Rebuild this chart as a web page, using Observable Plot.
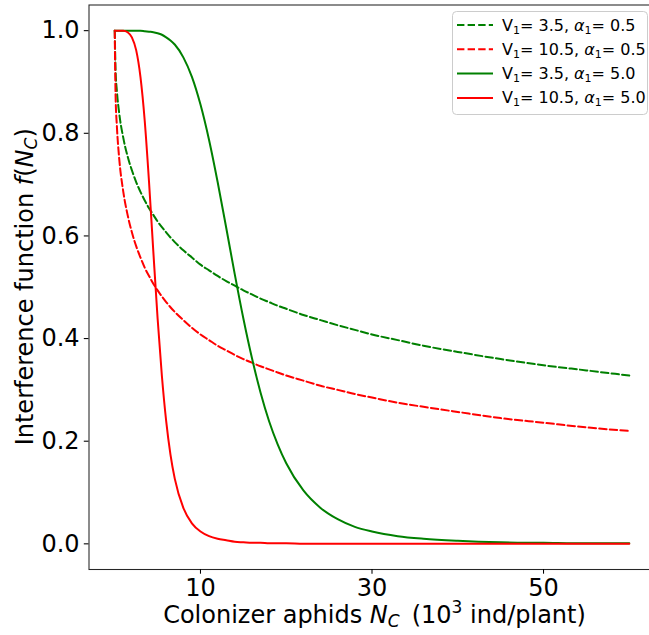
<!DOCTYPE html>
<html><head><meta charset="utf-8">
<script src="https://cdn.jsdelivr.net/npm/d3@7"></script>
<script src="https://cdn.jsdelivr.net/npm/@observablehq/plot@0.6"></script>
<style>
html,body{margin:0;padding:0;background:#fff;overflow:hidden}
#chart{position:relative;width:649px;height:635px;overflow:hidden}
#chart svg{font-family:"DejaVu Sans",sans-serif;overflow:hidden}
</style></head><body><div id="chart"></div>
<script>
// Colonizer aphids N_C (10^3 ind/plant)
const nValues = [0, 0.1, 0.25, 0.5, 1, 1.5, 2, 2.5, 3, 3.5, 4, 4.5, 5, 5.5, 6, 6.5, 7, 8, 9, 10, 11, 12, 13, 14, 15, 16, 17, 18, 19, 20, 22, 24, 26, 28, 30, 33, 36, 40, 45, 50, 55, 60];
// V1 = 3.5, alpha1 = 0.5 (green dashed)
const greenDashed = [1.000, 0.923, 0.883, 0.842, 0.791, 0.755, 0.728, 0.705, 0.686, 0.669, 0.654, 0.641, 0.628, 0.617, 0.607, 0.597, 0.588, 0.572, 0.558, 0.544, 0.533, 0.522, 0.512, 0.503, 0.494, 0.486, 0.478, 0.471, 0.464, 0.458, 0.446, 0.436, 0.426, 0.417, 0.408, 0.397, 0.386, 0.374, 0.360, 0.348, 0.338, 0.328];
// V1 = 10.5, alpha1 = 0.5 (red dashed)
const redDashed = [1.000, 0.873, 0.814, 0.755, 0.686, 0.641, 0.607, 0.580, 0.558, 0.538, 0.522, 0.507, 0.494, 0.482, 0.471, 0.461, 0.452, 0.436, 0.421, 0.408, 0.397, 0.386, 0.377, 0.368, 0.360, 0.353, 0.346, 0.340, 0.334, 0.328, 0.318, 0.308, 0.300, 0.292, 0.285, 0.275, 0.267, 0.257, 0.245, 0.236, 0.227, 0.220];
// V1 = 3.5, alpha1 = 5.0 (green solid)
const greenSolid = [1, 1, 1, 1, 1, 1, 1.000, 1.000, 1.000, 0.999, 0.998, 0.997, 0.995, 0.992, 0.987, 0.981, 0.973, 0.948, 0.910, 0.856, 0.787, 0.705, 0.616, 0.525, 0.439, 0.362, 0.295, 0.239, 0.194, 0.157, 0.104, 0.070, 0.048, 0.033, 0.024, 0.015, 0.010, 0.006, 0.003, 0.002, 0.001, 0.001];
// V1 = 10.5, alpha1 = 5.0 (red solid)
const redSolid = [1, 1, 1, 1, 1.000, 0.997, 0.987, 0.962, 0.910, 0.824, 0.705, 0.570, 0.439, 0.327, 0.239, 0.174, 0.127, 0.070, 0.040, 0.024, 0.015, 0.010, 0.007, 0.004, 0.003, 0.002, 0.002, 0.001, 0.001, 0.001, 0, 0, 0, 0, 0, 0, 0, 0, 0, 0, 0, 0];

const xTicks = [10, 30, 50];
const yTicks = [0.0, 0.2, 0.4, 0.6, 0.8, 1.0];
const vLabels = ["3.5", "10.5", "3.5", "10.5"];
const aLabels = ["0.5", "0.5", "5.0", "5.0"];
const seriesColors = ["green", "red", "green", "red"];
const seriesDashed = [true, true, false, false];
const seriesValues = [greenDashed, redDashed, greenSolid, redSolid];

const rows = seriesValues.flatMap((vals, k) => nValues.map((n, i) => ({n, f: vals[i], k})));

const W = 649, H = 635;
const plot = Plot.plot({
  width: W, height: H,
  marginLeft: 88.5, marginRight: -5.5, marginTop: 4.5, marginBottom: 66,
  style: {fontFamily: "DejaVu Sans, sans-serif", background: "white", color: "black"},
  x: {domain: [-3, 63]},
  y: {domain: [-0.05, 1.05]},
  marks: [
    ...seriesValues.map((_, k) => Plot.line(rows.filter(r => r.k === k), {
      x: "n", y: "f", stroke: seriesColors[k], strokeWidth: 2,
      strokeDasharray: seriesDashed[k] ? "7.4,3.2" : null, curve: "monotone-x"
    })),
    Plot.frame({stroke: "black", strokeWidth: 1.07, strokeOpacity: 0.85}),
    Plot.axisX(xTicks, {tickSize: 4.7, tickPadding: 4.7, fontSize: 24, label: null, tickFormat: d => String(d), strokeWidth: 1.07}),
    Plot.axisY(yTicks, {tickSize: 4.7, tickPadding: 4.7, fontSize: 24, label: null, tickFormat: d3.format(".1f"), strokeWidth: 1.07})
  ]
});
document.getElementById("chart").appendChild(plot);

const svg = d3.select(plot);
const xs = plot.scale("x"), ys = plot.scale("y");
const cx = (xs.apply(-3) + xs.apply(63)) / 2;
const cy = (ys.apply(-0.05) + ys.apply(1.05)) / 2;

// x label
const xl = svg.append("text").attr("x", cx + 3).attr("y", 623).attr("text-anchor", "middle")
  .attr("font-size", 24).attr("fill", "black");
xl.append("tspan").text("Colonizer aphids ");
xl.append("tspan").attr("font-style", "italic").text("N");
xl.append("tspan").attr("font-style", "italic").attr("font-size", 17).attr("dy", 4).text("C");
xl.append("tspan").attr("dy", -4).text("\u2002(10");
xl.append("tspan").attr("font-size", 17).attr("dy", -10).text("3");
xl.append("tspan").attr("dy", 10).text(" ind/plant)");

// y label
const yl = svg.append("text").attr("transform", `translate(33,${cy}) rotate(-90)`).attr("text-anchor", "middle")
  .attr("font-size", 24).attr("fill", "black");
yl.append("tspan").text("Interference function ");
yl.append("tspan").attr("font-style", "italic").text("f");
yl.append("tspan").text("(");
yl.append("tspan").attr("font-style", "italic").text("N");
yl.append("tspan").attr("font-style", "italic").attr("font-size", 17).attr("dy", 4).text("C");
yl.append("tspan").attr("dy", -4).text(")");

// legend
const lg = svg.append("g").attr("text-anchor", "start");
lg.append("rect").attr("x", 452.5).attr("y", 11.5).attr("width", 195).attr("height", 103).attr("rx", 4)
  .attr("fill", "white").attr("fill-opacity", 0.8).attr("stroke", "#cccccc").attr("stroke-width", 1);
vLabels.forEach((v, k) => {
  const yy = 25 + k * 24.3;
  lg.append("line").attr("x1", 457).attr("x2", 493).attr("y1", yy).attr("y2", yy)
    .attr("stroke", seriesColors[k]).attr("stroke-width", 2)
    .attr("stroke-dasharray", seriesDashed[k] ? "7.4,3.2" : null);
  const t = lg.append("text").attr("x", 502).attr("y", yy + 5.5).attr("font-size", 16)
    .attr("fill", "black").attr("text-anchor", "start");
  t.append("tspan").text("V");
  t.append("tspan").attr("font-size", 11).attr("dy", 3).text("1");
  t.append("tspan").attr("dy", -3).text("= " + v + ", ");
  t.append("tspan").attr("font-style", "italic").text("\u03b1");
  t.append("tspan").attr("font-size", 11).attr("dy", 3).text("1");
  t.append("tspan").attr("dy", -3).text("= " + aLabels[k]);
});
</script>
</body></html>
